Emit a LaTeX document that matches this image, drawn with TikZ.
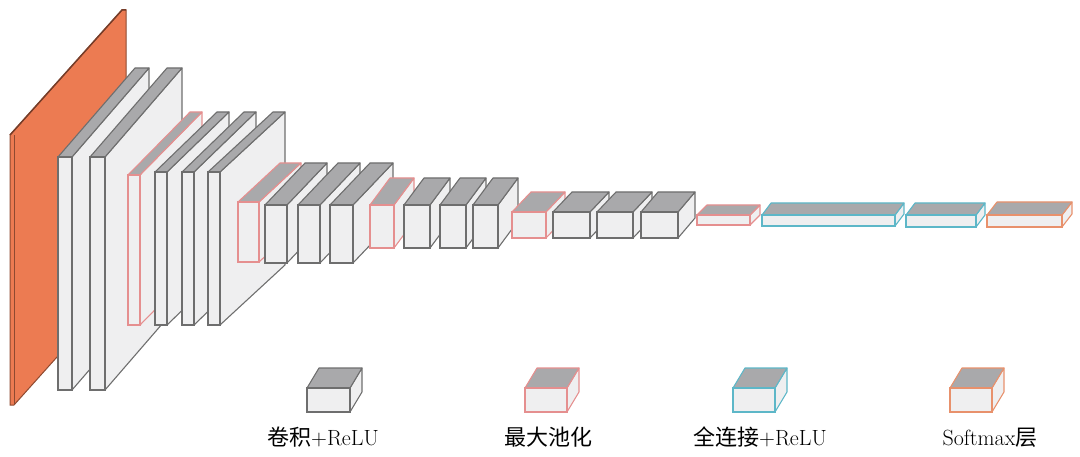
\documentclass[tikz,border=0pt]{standalone}
\usepackage{fontspec}
\newfontfamily\cjk{Noto Sans CJK SC}
\definecolor{org}{HTML}{EC7B52}
\definecolor{pk}{HTML}{E58F8F}
\definecolor{cy}{HTML}{5DB7C8}
\definecolor{so}{HTML}{E8916C}
\definecolor{ge}{HTML}{6E6E6E}
\definecolor{tf}{HTML}{A9A9AB}
\definecolor{ff}{HTML}{EFEFF0}
\newcommand\blk[7]{%
 \pgfmathsetmacro\xa{#1}\pgfmathsetmacro\ya{#2}\pgfmathsetmacro\xb{#1+#3}\pgfmathsetmacro\yb{#2+#4}%
 \pgfmathsetmacro\xc{#1+#5}\pgfmathsetmacro\xd{#1+#3+#5}\pgfmathsetmacro\yc{#2-#6}\pgfmathsetmacro\ye{#2+#4-#6}%
 \filldraw[draw=#7,fill=ff,line width=1.1pt,line join=round] (\xb,\ya)--(\xd,\yc)--(\xd,\ye)--(\xb,\yb)--cycle;
 \filldraw[draw=#7,fill=tf,line width=1.1pt,line join=round] (\xa,\ya)--(\xc,\yc)--(\xd,\yc)--(\xb,\ya)--cycle;
 \filldraw[draw=#7,fill=ff,line width=1.1pt] (\xa,\ya) rectangle (\xb,\yb);
}
\begin{document}
\begin{tikzpicture}[x=1pt,y=-1pt,lbl/.style={font=\fontsize{22}{26}\selectfont,anchor=base}]
\useasboundingbox (0,0) rectangle (1080,457);
% input
\filldraw[draw=org!60!black,fill=org,line width=1pt] (10,135)--(122,10)--(126,10)--(126,280)--(14,405)--(10,405)--cycle;
\draw[org!50!black,line width=1.5pt] (10,135)--(122,10)--(126,10);
\draw[org!60!black] (14,135)--(14,405);
% stage 1
\blk{58}{157}{14}{233}{77}{89}{ge}
\blk{90}{157}{15}{233}{77}{89}{ge}
% stage 2
\blk{128}{175}{12}{150}{62}{63}{pk}
\blk{155}{172}{12}{153}{62}{60}{ge}
\blk{182}{172}{12}{153}{62}{60}{ge}
\blk{208}{172}{12}{153}{65}{60}{ge}
% stage 3
\blk{238}{202}{21}{60}{42}{39}{pk}
\blk{265}{205}{22}{58}{40}{42}{ge}
\blk{298}{205}{22}{58}{40}{42}{ge}
\blk{330}{205}{23}{58}{40}{42}{ge}
% stage 4
\blk{370}{205}{24}{43}{20}{27}{pk}
\blk{404}{205}{26}{43}{20}{27}{ge}
\blk{440}{205}{26}{43}{20}{27}{ge}
\blk{473}{205}{25}{43}{20}{27}{ge}
% stage 5
\blk{512}{212}{34}{26}{19}{20}{pk}
\blk{553}{212}{37}{26}{19}{20}{ge}
\blk{597}{212}{36}{26}{19}{20}{ge}
\blk{641}{212}{37}{26}{17}{20}{ge}
% fc
\blk{697}{215}{53}{10}{10}{10}{pk}
\blk{762}{215}{133}{11}{9}{12}{cy}
\blk{906}{215}{70}{12}{9}{12}{cy}
\blk{987}{215}{75}{12}{10}{13}{so}
% legend
\blk{307}{388}{43}{24}{12}{20}{ge}
\blk{525}{388}{42}{24}{12}{20}{pk}
\blk{733}{388}{42}{24}{12}{20}{cy}
\blk{950}{388}{42}{24}{12}{20}{so}
\node[lbl] (l1) at (323,445) {{\cjk 卷积}+ReLU};
\node[lbl] (l2) at (548,445) {\cjk 最大池化};
\node[lbl] (l3) at (760,445) {{\cjk 全连接}+ReLU};
\node[lbl] (l4) at (990,445) {Softmax{\cjk 层}};
\end{tikzpicture}
\end{document}
